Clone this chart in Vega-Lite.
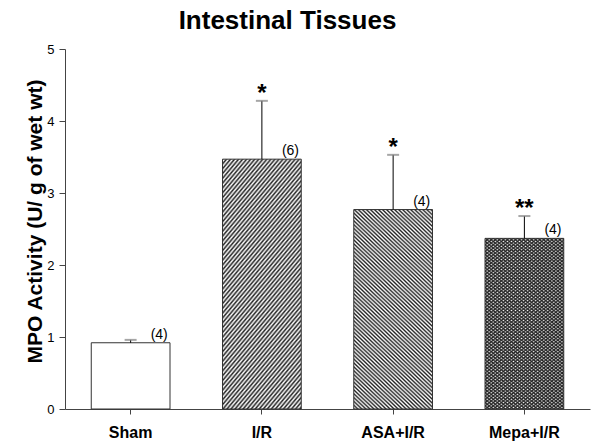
{
"$schema":"https://vega.github.io/schema/vega-lite/v6.json",
"autosize":{"type":"none"},
"width":525,"height":360,
"padding":{"left":65,"top":49,"right":5,"bottom":35},
"background":"white",
"title":{"text":"Intestinal Tissues","fontSize":26,"fontWeight":"bold","font":"Liberation Sans","color":"#000","frame":"group","anchor":"middle","dx":-40,"offset":-12,"baseline":"alphabetic"},
"config":{"view":{"stroke":null},"font":"Liberation Sans",
"axis":{"domainColor":"#444","tickColor":"#444","labelColor":"#000","titleColor":"#000","labelFont":"Liberation Sans","titleFont":"Liberation Sans","grid":false}},
"data":{"values":[
{"group":"Sham","value":0.92,"upper":0.96,"n":"(4)","sig":""},
{"group":"I/R","value":3.47,"upper":4.28,"n":"(6)","sig":"*"},
{"group":"ASA+I/R","value":2.77,"upper":3.53,"n":"(4)","sig":"*"},
{"group":"Mepa+I/R","value":2.37,"upper":2.68,"n":"(4)","sig":"**"}
]},
"encoding":{
"x":{"field":"group","type":"nominal","sort":null,"title":null,"scale":{"paddingInner":0.4,"paddingOuter":0.2},
"axis":{"labelAngle":0,"labelFontSize":16,"labelFontWeight":"bold","tickSize":5,"labelPadding":10}},
"y":{"field":"value","type":"quantitative","scale":{"domain":[0,5]},
"axis":{"values":[0,1,2,3,4,5],"title":"MPO Activity (U/ g of wet wt)","titleFontSize":21,"titleFontWeight":"bold","labelFontSize":13,"tickSize":6,"labelPadding":5,"titleX":-24,"titleY":172,"titleBaseline":"alphabetic"}}
},
"layer":[
{"mark":{"type":"bar","fill":"white","stroke":null}},
{"transform":[{"filter":{"field":"group","oneOf":["I/R","Mepa+I/R"]}}],
"mark":{"type":"bar","stroke":null,"fill":{"gradient":"linear","x1":0,"y1":0,"x2":0.4535,"y2":1.206,"stops":[
{"offset":0,"color":"#222"},{"offset":0.007,"color":"#2220"},{"offset":0.014,"color":"#222"},{"offset":0.021,"color":"#2220"},{"offset":0.028,"color":"#222"},{"offset":0.035,"color":"#2220"},{"offset":0.042,"color":"#222"},{"offset":0.049,"color":"#2220"},{"offset":0.056,"color":"#222"},{"offset":0.063,"color":"#2220"},{"offset":0.07,"color":"#222"},{"offset":0.077,"color":"#2220"},{"offset":0.084,"color":"#222"},{"offset":0.091,"color":"#2220"},{"offset":0.098,"color":"#222"},{"offset":0.105,"color":"#2220"},{"offset":0.112,"color":"#222"},{"offset":0.119,"color":"#2220"},{"offset":0.126,"color":"#222"},{"offset":0.133,"color":"#2220"},{"offset":0.14,"color":"#222"},{"offset":0.147,"color":"#2220"},{"offset":0.154,"color":"#222"},{"offset":0.161,"color":"#2220"},{"offset":0.168,"color":"#222"},{"offset":0.175,"color":"#2220"},{"offset":0.182,"color":"#222"},{"offset":0.189,"color":"#2220"},{"offset":0.196,"color":"#222"},{"offset":0.203,"color":"#2220"},{"offset":0.21,"color":"#222"},{"offset":0.217,"color":"#2220"},{"offset":0.224,"color":"#222"},{"offset":0.231,"color":"#2220"},{"offset":0.238,"color":"#222"},{"offset":0.245,"color":"#2220"},{"offset":0.252,"color":"#222"},{"offset":0.259,"color":"#2220"},{"offset":0.266,"color":"#222"},{"offset":0.273,"color":"#2220"},{"offset":0.28,"color":"#222"},{"offset":0.287,"color":"#2220"},{"offset":0.294,"color":"#222"},{"offset":0.301,"color":"#2220"},{"offset":0.308,"color":"#222"},{"offset":0.315,"color":"#2220"},{"offset":0.322,"color":"#222"},{"offset":0.329,"color":"#2220"},{"offset":0.336,"color":"#222"},{"offset":0.343,"color":"#2220"},{"offset":0.35,"color":"#222"},{"offset":0.357,"color":"#2220"},{"offset":0.364,"color":"#222"},{"offset":0.371,"color":"#2220"},{"offset":0.378,"color":"#222"},{"offset":0.385,"color":"#2220"},{"offset":0.392,"color":"#222"},{"offset":0.399,"color":"#2220"},{"offset":0.406,"color":"#222"},{"offset":0.413,"color":"#2220"},{"offset":0.42,"color":"#222"},{"offset":0.427,"color":"#2220"},{"offset":0.434,"color":"#222"},{"offset":0.441,"color":"#2220"},{"offset":0.448,"color":"#222"},{"offset":0.455,"color":"#2220"},{"offset":0.462,"color":"#222"},{"offset":0.469,"color":"#2220"},{"offset":0.476,"color":"#222"},{"offset":0.483,"color":"#2220"},{"offset":0.49,"color":"#222"},{"offset":0.497,"color":"#2220"},{"offset":0.504,"color":"#222"},{"offset":0.511,"color":"#2220"},{"offset":0.518,"color":"#222"},{"offset":0.525,"color":"#2220"},{"offset":0.532,"color":"#222"},{"offset":0.539,"color":"#2220"},{"offset":0.546,"color":"#222"},{"offset":0.553,"color":"#2220"},{"offset":0.56,"color":"#222"},{"offset":0.567,"color":"#2220"},{"offset":0.574,"color":"#222"},{"offset":0.581,"color":"#2220"},{"offset":0.588,"color":"#222"},{"offset":0.595,"color":"#2220"},{"offset":0.602,"color":"#222"},{"offset":0.609,"color":"#2220"},{"offset":0.616,"color":"#222"},{"offset":0.623,"color":"#2220"},{"offset":0.63,"color":"#222"},{"offset":0.637,"color":"#2220"},{"offset":0.644,"color":"#222"},{"offset":0.651,"color":"#2220"},{"offset":0.658,"color":"#222"},{"offset":0.665,"color":"#2220"},{"offset":0.672,"color":"#222"},{"offset":0.679,"color":"#2220"},{"offset":0.686,"color":"#222"},{"offset":0.693,"color":"#2220"},{"offset":0.7,"color":"#222"},{"offset":0.707,"color":"#2220"},{"offset":0.714,"color":"#222"},{"offset":0.721,"color":"#2220"},{"offset":0.728,"color":"#222"},{"offset":0.735,"color":"#2220"},{"offset":0.742,"color":"#222"},{"offset":0.749,"color":"#2220"},{"offset":0.756,"color":"#222"},{"offset":0.763,"color":"#2220"},{"offset":0.77,"color":"#222"},{"offset":0.777,"color":"#2220"},{"offset":0.784,"color":"#222"},{"offset":0.791,"color":"#2220"},{"offset":0.798,"color":"#222"},{"offset":0.805,"color":"#2220"},{"offset":0.812,"color":"#222"},{"offset":0.819,"color":"#2220"},{"offset":0.826,"color":"#222"},{"offset":0.833,"color":"#2220"},{"offset":0.84,"color":"#222"},{"offset":0.847,"color":"#2220"},{"offset":0.854,"color":"#222"},{"offset":0.861,"color":"#2220"},{"offset":0.868,"color":"#222"},{"offset":0.875,"color":"#2220"},{"offset":0.882,"color":"#222"},{"offset":0.889,"color":"#2220"},{"offset":0.896,"color":"#222"},{"offset":0.903,"color":"#2220"},{"offset":0.91,"color":"#222"},{"offset":0.917,"color":"#2220"},{"offset":0.924,"color":"#222"},{"offset":0.931,"color":"#2220"},{"offset":0.938,"color":"#222"},{"offset":0.945,"color":"#2220"},{"offset":0.952,"color":"#222"},{"offset":0.959,"color":"#2220"},{"offset":0.966,"color":"#222"},{"offset":0.973,"color":"#2220"},{"offset":0.98,"color":"#222"},{"offset":0.987,"color":"#2220"},{"offset":0.994,"color":"#222"}
]}}},
{"transform":[{"filter":{"field":"group","oneOf":["ASA+I/R","Mepa+I/R"]}}],
"mark":{"type":"bar","stroke":null,"fill":{"gradient":"linear","x1":0,"y1":1,"x2":0.4535,"y2":-0.206,"stops":[
{"offset":0,"color":"#222"},{"offset":0.007,"color":"#2220"},{"offset":0.014,"color":"#222"},{"offset":0.021,"color":"#2220"},{"offset":0.028,"color":"#222"},{"offset":0.035,"color":"#2220"},{"offset":0.042,"color":"#222"},{"offset":0.049,"color":"#2220"},{"offset":0.056,"color":"#222"},{"offset":0.063,"color":"#2220"},{"offset":0.07,"color":"#222"},{"offset":0.077,"color":"#2220"},{"offset":0.084,"color":"#222"},{"offset":0.091,"color":"#2220"},{"offset":0.098,"color":"#222"},{"offset":0.105,"color":"#2220"},{"offset":0.112,"color":"#222"},{"offset":0.119,"color":"#2220"},{"offset":0.126,"color":"#222"},{"offset":0.133,"color":"#2220"},{"offset":0.14,"color":"#222"},{"offset":0.147,"color":"#2220"},{"offset":0.154,"color":"#222"},{"offset":0.161,"color":"#2220"},{"offset":0.168,"color":"#222"},{"offset":0.175,"color":"#2220"},{"offset":0.182,"color":"#222"},{"offset":0.189,"color":"#2220"},{"offset":0.196,"color":"#222"},{"offset":0.203,"color":"#2220"},{"offset":0.21,"color":"#222"},{"offset":0.217,"color":"#2220"},{"offset":0.224,"color":"#222"},{"offset":0.231,"color":"#2220"},{"offset":0.238,"color":"#222"},{"offset":0.245,"color":"#2220"},{"offset":0.252,"color":"#222"},{"offset":0.259,"color":"#2220"},{"offset":0.266,"color":"#222"},{"offset":0.273,"color":"#2220"},{"offset":0.28,"color":"#222"},{"offset":0.287,"color":"#2220"},{"offset":0.294,"color":"#222"},{"offset":0.301,"color":"#2220"},{"offset":0.308,"color":"#222"},{"offset":0.315,"color":"#2220"},{"offset":0.322,"color":"#222"},{"offset":0.329,"color":"#2220"},{"offset":0.336,"color":"#222"},{"offset":0.343,"color":"#2220"},{"offset":0.35,"color":"#222"},{"offset":0.357,"color":"#2220"},{"offset":0.364,"color":"#222"},{"offset":0.371,"color":"#2220"},{"offset":0.378,"color":"#222"},{"offset":0.385,"color":"#2220"},{"offset":0.392,"color":"#222"},{"offset":0.399,"color":"#2220"},{"offset":0.406,"color":"#222"},{"offset":0.413,"color":"#2220"},{"offset":0.42,"color":"#222"},{"offset":0.427,"color":"#2220"},{"offset":0.434,"color":"#222"},{"offset":0.441,"color":"#2220"},{"offset":0.448,"color":"#222"},{"offset":0.455,"color":"#2220"},{"offset":0.462,"color":"#222"},{"offset":0.469,"color":"#2220"},{"offset":0.476,"color":"#222"},{"offset":0.483,"color":"#2220"},{"offset":0.49,"color":"#222"},{"offset":0.497,"color":"#2220"},{"offset":0.504,"color":"#222"},{"offset":0.511,"color":"#2220"},{"offset":0.518,"color":"#222"},{"offset":0.525,"color":"#2220"},{"offset":0.532,"color":"#222"},{"offset":0.539,"color":"#2220"},{"offset":0.546,"color":"#222"},{"offset":0.553,"color":"#2220"},{"offset":0.56,"color":"#222"},{"offset":0.567,"color":"#2220"},{"offset":0.574,"color":"#222"},{"offset":0.581,"color":"#2220"},{"offset":0.588,"color":"#222"},{"offset":0.595,"color":"#2220"},{"offset":0.602,"color":"#222"},{"offset":0.609,"color":"#2220"},{"offset":0.616,"color":"#222"},{"offset":0.623,"color":"#2220"},{"offset":0.63,"color":"#222"},{"offset":0.637,"color":"#2220"},{"offset":0.644,"color":"#222"},{"offset":0.651,"color":"#2220"},{"offset":0.658,"color":"#222"},{"offset":0.665,"color":"#2220"},{"offset":0.672,"color":"#222"},{"offset":0.679,"color":"#2220"},{"offset":0.686,"color":"#222"},{"offset":0.693,"color":"#2220"},{"offset":0.7,"color":"#222"},{"offset":0.707,"color":"#2220"},{"offset":0.714,"color":"#222"},{"offset":0.721,"color":"#2220"},{"offset":0.728,"color":"#222"},{"offset":0.735,"color":"#2220"},{"offset":0.742,"color":"#222"},{"offset":0.749,"color":"#2220"},{"offset":0.756,"color":"#222"},{"offset":0.763,"color":"#2220"},{"offset":0.77,"color":"#222"},{"offset":0.777,"color":"#2220"},{"offset":0.784,"color":"#222"},{"offset":0.791,"color":"#2220"},{"offset":0.798,"color":"#222"},{"offset":0.805,"color":"#2220"},{"offset":0.812,"color":"#222"},{"offset":0.819,"color":"#2220"},{"offset":0.826,"color":"#222"},{"offset":0.833,"color":"#2220"},{"offset":0.84,"color":"#222"},{"offset":0.847,"color":"#2220"},{"offset":0.854,"color":"#222"},{"offset":0.861,"color":"#2220"},{"offset":0.868,"color":"#222"},{"offset":0.875,"color":"#2220"},{"offset":0.882,"color":"#222"},{"offset":0.889,"color":"#2220"},{"offset":0.896,"color":"#222"},{"offset":0.903,"color":"#2220"},{"offset":0.91,"color":"#222"},{"offset":0.917,"color":"#2220"},{"offset":0.924,"color":"#222"},{"offset":0.931,"color":"#2220"},{"offset":0.938,"color":"#222"},{"offset":0.945,"color":"#2220"},{"offset":0.952,"color":"#222"},{"offset":0.959,"color":"#2220"},{"offset":0.966,"color":"#222"},{"offset":0.973,"color":"#2220"},{"offset":0.98,"color":"#222"},{"offset":0.987,"color":"#2220"},{"offset":0.994,"color":"#222"}
]}}},
{"mark":{"type":"bar","fill":"transparent","stroke":"#333","strokeWidth":1}},
{"mark":{"type":"rule","color":"#000","strokeWidth":1},"encoding":{"y":{"field":"value","type":"quantitative"},"y2":{"field":"upper"}}},
{"mark":{"type":"tick","orient":"horizontal","size":12,"thickness":2,"color":"#808080"},"encoding":{"y":{"field":"upper","type":"quantitative"}}},
{"mark":{"type":"text","align":"left","baseline":"alphabetic","dx":20,"dy":-4,"fontSize":14,"color":"#000"},"encoding":{"text":{"field":"n"}}},
{"mark":{"type":"text","align":"center","baseline":"alphabetic","dy":0,"fontSize":24,"fontWeight":"bold","color":"#000"},"encoding":{"y":{"field":"upper","type":"quantitative"},"text":{"field":"sig"}}}
]
}
